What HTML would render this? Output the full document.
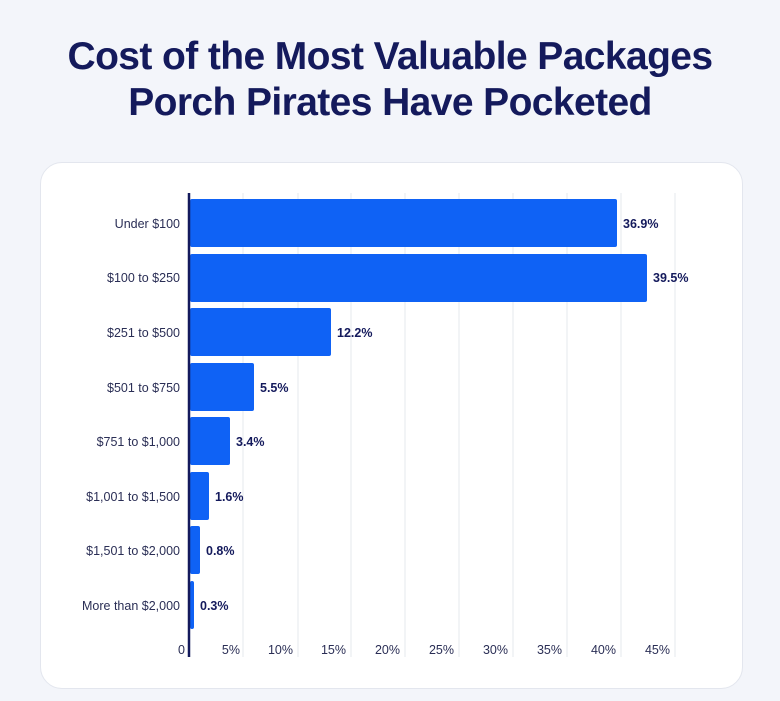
<!DOCTYPE html>
<html><head><style>
body{margin:0;width:780px;height:701px;background:#f3f5fa;font-family:"Liberation Sans",sans-serif;overflow:hidden}
h1{margin:0;position:absolute;top:34px;left:0;width:780px;text-align:center;font-size:39px;line-height:46px;color:#141a5c;font-weight:bold;letter-spacing:-0.6px}
.card{position:absolute;left:40px;top:162px;width:701px;height:525px;background:#fff;border:1px solid #e3e6ee;border-radius:22px}
</style></head><body>
<h1>Cost of the Most Valuable Packages<br>Porch Pirates Have Pocketed</h1>
<div class="card"></div>
<svg width="780" height="701" style="position:absolute;left:0;top:0" font-family="Liberation Sans, sans-serif">
<g stroke="#e6e8ee" stroke-width="1">
<line x1="243" y1="193" x2="243" y2="657"/><line x1="298" y1="193" x2="298" y2="657"/>
<line x1="351" y1="193" x2="351" y2="657"/><line x1="405" y1="193" x2="405" y2="657"/>
<line x1="459" y1="193" x2="459" y2="657"/><line x1="513" y1="193" x2="513" y2="657"/>
<line x1="567" y1="193" x2="567" y2="657"/><line x1="621" y1="193" x2="621" y2="657"/>
<line x1="675" y1="193" x2="675" y2="657"/>
</g>
<g fill="#0f62f5">
<rect x="190" y="199" width="427" height="48" rx="2"/>
<rect x="190" y="254" width="457" height="48" rx="2"/>
<rect x="190" y="308" width="141" height="48" rx="2"/>
<rect x="190" y="363" width="64" height="48" rx="2"/>
<rect x="190" y="417" width="40" height="48" rx="2"/>
<rect x="190" y="472" width="19" height="48" rx="2"/>
<rect x="190" y="526" width="10" height="48" rx="2"/>
<rect x="190" y="581" width="4" height="48" rx="2"/>
</g>
<line x1="189" y1="193" x2="189" y2="657" stroke="#141a5c" stroke-width="2.5"/>
<g font-size="12.5" fill="#2a2e55" text-anchor="end">
<text x="180" y="228">Under $100</text><text x="180" y="282">$100 to $250</text>
<text x="180" y="337">$251 to $500</text><text x="180" y="392">$501 to $750</text>
<text x="180" y="446">$751 to $1,000</text><text x="180" y="501">$1,001 to $1,500</text>
<text x="180" y="555">$1,501 to $2,000</text><text x="180" y="610">More than $2,000</text>
</g>
<g font-size="12.5" font-weight="bold" fill="#141a5c">
<text x="623" y="228">36.9%</text><text x="653" y="282">39.5%</text>
<text x="337" y="337">12.2%</text><text x="260" y="392">5.5%</text>
<text x="236" y="446">3.4%</text><text x="215" y="501">1.6%</text>
<text x="206" y="555">0.8%</text><text x="200" y="610">0.3%</text>
</g>
<g font-size="12.5" fill="#2a2e55" text-anchor="end">
<text x="185" y="654">0</text><text x="240" y="654">5%</text><text x="293" y="654">10%</text>
<text x="346" y="654">15%</text><text x="400" y="654">20%</text><text x="454" y="654">25%</text>
<text x="508" y="654">30%</text><text x="562" y="654">35%</text><text x="616" y="654">40%</text>
<text x="670" y="654">45%</text>
</g>
</svg>
</body></html>
